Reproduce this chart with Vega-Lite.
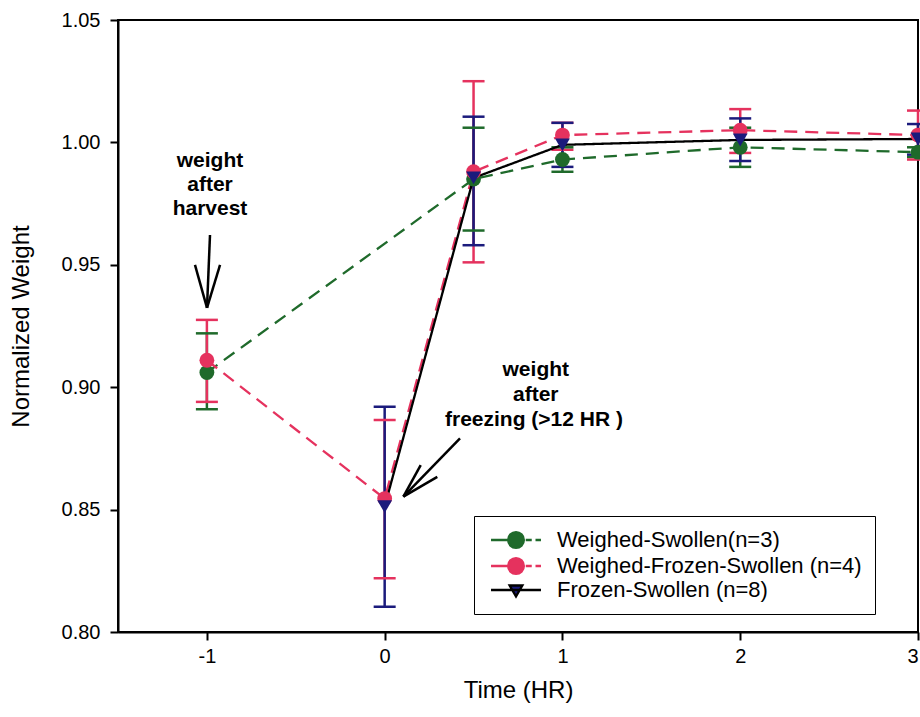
{
  "$schema": "https://vega.github.io/schema/vega-lite/v6.json",
  "width": 800,
  "height": 612,
  "autosize": {"type": "none"},
  "padding": {"left": 118, "top": 20, "right": 2, "bottom": 85},
  "background": "white",
  "config": {
    "font": "Liberation Sans",
    "view": {"stroke": "black", "strokeWidth": 2},
    "axis": {
      "grid": false,
      "domainColor": "black",
      "domainWidth": 2,
      "tickColor": "black",
      "tickWidth": 2,
      "tickSize": 8,
      "labelFontSize": 20,
      "labelColor": "black",
      "labelPadding": 6,
      "titleFontSize": 24,
      "titleFontWeight": "normal",
      "titleColor": "black"
    }
  },
  "datasets": {
    "series": [
      {"series": "Weighed-Swollen(n=3)", "t": -1, "w": 0.906, "lo": 0.891, "hi": 0.922},
      {"series": "Weighed-Swollen(n=3)", "t": 0.5, "w": 0.985, "lo": 0.964, "hi": 1.006},
      {"series": "Weighed-Swollen(n=3)", "t": 1, "w": 0.993, "lo": 0.988, "hi": 0.998},
      {"series": "Weighed-Swollen(n=3)", "t": 2, "w": 0.998, "lo": 0.990, "hi": 1.006},
      {"series": "Weighed-Swollen(n=3)", "t": 3, "w": 0.996, "lo": 0.994, "hi": 0.998},
      {"series": "Weighed-Frozen-Swollen (n=4)", "t": -1, "w": 0.911, "lo": 0.894, "hi": 0.9275},
      {"series": "Weighed-Frozen-Swollen (n=4)", "t": 0, "w": 0.8545, "lo": 0.822, "hi": 0.8866},
      {"series": "Weighed-Frozen-Swollen (n=4)", "t": 0.5, "w": 0.988, "lo": 0.951, "hi": 1.025},
      {"series": "Weighed-Frozen-Swollen (n=4)", "t": 1, "w": 1.003, "lo": 0.997, "hi": 1.008},
      {"series": "Weighed-Frozen-Swollen (n=4)", "t": 2, "w": 1.005, "lo": 0.9957, "hi": 1.0136},
      {"series": "Weighed-Frozen-Swollen (n=4)", "t": 3, "w": 1.003, "lo": 0.993, "hi": 1.013},
      {"series": "Frozen-Swollen (n=8)", "t": 0, "w": 0.8512, "lo": 0.8103, "hi": 0.892},
      {"series": "Frozen-Swollen (n=8)", "t": 0.5, "w": 0.9855, "lo": 0.958, "hi": 1.0105},
      {"series": "Frozen-Swollen (n=8)", "t": 1, "w": 0.999, "lo": 0.990, "hi": 1.008},
      {"series": "Frozen-Swollen (n=8)", "t": 2, "w": 1.001, "lo": 0.9924, "hi": 1.0098},
      {"series": "Frozen-Swollen (n=8)", "t": 3, "w": 1.0014, "lo": 0.995, "hi": 1.0075}
    ],
    "notes": [
      {"x": -0.9825, "y": 0.9924, "label": "weight"},
      {"x": -0.9825, "y": 0.9826, "label": "after"},
      {"x": -0.9825, "y": 0.9728, "label": "harvest"},
      {"x": 0.85, "y": 0.907, "label": "weight"},
      {"x": 0.85, "y": 0.8968, "label": "after"},
      {"x": 0.84, "y": 0.8866, "label": "freezing (>12 HR )"}
    ],
    "arrows": [
      {"x": -0.9825, "y": 0.9622, "x2": -0.9994, "y2": 0.9324},
      {"x": -1.067, "y": 0.95, "x2": -0.9994, "y2": 0.9324},
      {"x": -0.926, "y": 0.95, "x2": -0.9994, "y2": 0.9324},
      {"x": 0.4238, "y": 0.8791, "x2": 0.1053, "y2": 0.8553},
      {"x": 0.2027, "y": 0.8682, "x2": 0.1053, "y2": 0.8553},
      {"x": 0.296, "y": 0.8634, "x2": 0.1053, "y2": 0.8553}
    ]
  },
  "encoding": {
    "x": {
      "field": "t",
      "type": "quantitative",
      "scale": {"domain": [-1.5, 3], "nice": false, "zero": false},
      "axis": {"values": [-1, 0, 1, 2, 3], "title": "Time (HR)", "titlePadding": 12, "labelExpr": "'' + datum.value"}
    },
    "y": {
      "field": "w",
      "type": "quantitative",
      "scale": {"domain": [0.8, 1.05], "nice": false, "zero": false},
      "axis": {"values": [0.8, 0.85, 0.9, 0.95, 1.0, 1.05], "format": ".2f", "title": "Normalized Weight", "titlePadding": 28, "labelPadding": 10}
    }
  },
  "layer": [
    {
      "data": {"name": "series"},
      "mark": {"type": "rule", "strokeWidth": 2.5, "opacity": 1},
      "encoding": {
        "y": {"field": "lo", "type": "quantitative"},
        "y2": {"field": "hi"},
        "color": {
          "condition": [
            {"test": "datum.series === 'Weighed-Swollen(n=3)'", "value": "#1f6a2b"},
            {"test": "datum.series === 'Frozen-Swollen (n=8)'", "value": "#1b1b7c"}
          ],
          "value": "#e5325e"
        }
      }
    },
    {
      "data": {"name": "series"},
      "mark": {"type": "tick", "orient": "horizontal", "size": 22, "thickness": 2.5, "opacity": 1},
      "encoding": {
        "y": {"field": "lo", "type": "quantitative"},
        "color": {
          "condition": [
            {"test": "datum.series === 'Weighed-Swollen(n=3)'", "value": "#1f6a2b"},
            {"test": "datum.series === 'Frozen-Swollen (n=8)'", "value": "#1b1b7c"}
          ],
          "value": "#e5325e"
        }
      }
    },
    {
      "data": {"name": "series"},
      "mark": {"type": "tick", "orient": "horizontal", "size": 22, "thickness": 2.5, "opacity": 1},
      "encoding": {
        "y": {"field": "hi", "type": "quantitative"},
        "color": {
          "condition": [
            {"test": "datum.series === 'Weighed-Swollen(n=3)'", "value": "#1f6a2b"},
            {"test": "datum.series === 'Frozen-Swollen (n=8)'", "value": "#1b1b7c"}
          ],
          "value": "#e5325e"
        }
      }
    },
    {
      "data": {"name": "series"},
      "mark": {"type": "line", "strokeWidth": 2.3},
      "encoding": {
        "stroke": {
          "field": "series",
          "type": "nominal",
          "scale": {"domain": ["Weighed-Swollen(n=3)", "Weighed-Frozen-Swollen (n=4)", "Frozen-Swollen (n=8)"], "range": ["#1f6a2b", "#e5325e", "#000000"]}
        },
        "strokeDash": {
          "condition": {"test": "datum.series === 'Frozen-Swollen (n=8)'", "value": [1, 0]},
          "value": [13, 8]
        },
        "order": {"field": "t", "type": "quantitative"}
      }
    },
    {
      "data": {"name": "series"},
      "transform": [{"filter": "datum.series !== 'Frozen-Swollen (n=8)'"}],
      "mark": {"type": "point", "shape": "circle", "filled": true, "size": 220, "opacity": 1},
      "encoding": {
        "fill": {"field": "series", "type": "nominal"}
      }
    },
    {
      "data": {"name": "series"},
      "transform": [{"filter": "datum.series === 'Frozen-Swollen (n=8)'"}],
      "mark": {"type": "point", "shape": "triangle-down", "filled": true, "size": 220, "opacity": 1},
      "encoding": {
        "fill": {"field": "series", "type": "nominal"}
      }
    },
    {
      "data": {"name": "series"},
      "transform": [{"filter": "false"}],
      "mark": {"type": "point", "filled": true, "size": 225, "opacity": 1, "strokeWidth": 2.3},
      "encoding": {
        "shape": {
          "field": "series",
          "type": "nominal",
          "scale": {"domain": ["Weighed-Swollen(n=3)", "Weighed-Frozen-Swollen (n=4)", "Frozen-Swollen (n=8)"], "range": [
            "M-3.33,0H-0.9M1.3,0H2.1M2.6,0H3.33M1.05,0A1.05,1.05,0,1,1,-1.05,0A1.05,1.05,0,1,1,1.05,0Z",
            "M-3.33,0H-0.9M1.3,0H2.1M2.6,0H3.33M1.05,0A1.05,1.05,0,1,1,-1.05,0A1.05,1.05,0,1,1,1.05,0Z",
            "M-3.33,0H3.33M-0.85,-0.6L0.85,-0.6L0,0.85Z"
          ]},
          "legend": {
            "title": null,
            "orient": "none",
            "legendX": 356,
            "legendY": 496,
            "strokeColor": "black",
            "padding": 13,
            "labelFontSize": 22,
            "labelColor": "black",
            "labelLimit": 500,
            "symbolSize": 225,
            "symbolStrokeWidth": 2.3,
            "symbolOffset": 18,
            "labelOffset": 30,
            "rowPadding": 0
          }
        },
        "fill": {
          "field": "series",
          "type": "nominal",
          "scale": {"domain": ["Weighed-Swollen(n=3)", "Weighed-Frozen-Swollen (n=4)", "Frozen-Swollen (n=8)"], "range": ["#1f6a2b", "#e5325e", "#1b1b7c"]}
        },
        "stroke": {"field": "series", "type": "nominal"}
      }
    },
    {
      "data": {"name": "arrows"},
      "mark": {"type": "rule", "strokeWidth": 2.5, "color": "black"},
      "encoding": {
        "x": {"field": "x", "type": "quantitative"},
        "y": {"field": "y", "type": "quantitative"},
        "x2": {"field": "x2"},
        "y2": {"field": "y2"}
      }
    },
    {
      "data": {"name": "notes"},
      "mark": {"type": "text", "fontSize": 21, "fontWeight": "bold", "color": "black", "align": "center", "baseline": "middle"},
      "encoding": {
        "x": {"field": "x", "type": "quantitative"},
        "y": {"field": "y", "type": "quantitative"},
        "text": {"field": "label", "type": "nominal"}
      }
    }
  ]
}
